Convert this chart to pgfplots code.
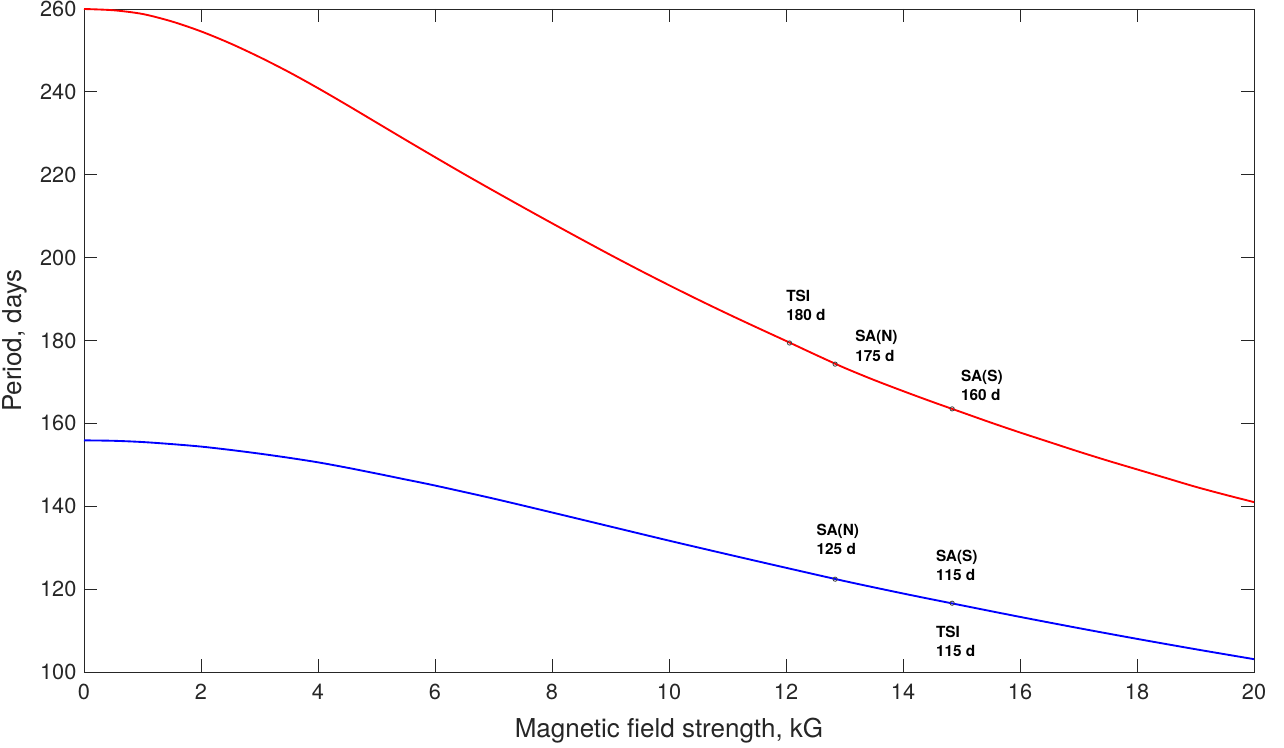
\documentclass[border=0pt]{standalone}
\usepackage{pgfplots}
\pgfplotsset{compat=1.18}
\usepackage{fontspec}
\setmainfont{TeX Gyre Heros}
\definecolor{axgray}{gray}{0.15}
\begin{document}
\begin{tikzpicture}
\begin{axis}[
  scale only axis,
  width=877.5pt, height=497.25pt,
  xmin=0, xmax=20, ymin=100, ymax=260,
  xtick={0,2,...,20}, ytick={100,120,...,260},
  tick align=inside,
  major tick length=9.5pt,
  axis line style={axgray, line width=0.6pt},
  every tick/.style={axgray, line width=0.6pt},
  /pgf/number format/assume math mode=true,
  tick label style={font=\fontsize{16.3}{18}\selectfont, text=axgray},
  xticklabel style={yshift=-5.5pt},
  yticklabel style={xshift=-2.2pt},
  xlabel={Magnetic field strength, kG},
  ylabel={Period, days},
  label style={font=\fontsize{19.5}{22}\selectfont, text=axgray},
  xlabel style={at={(axis description cs:0.5,0)}, anchor=base, yshift=-48.75pt},
  ylabel style={at={(axis description cs:-0.053,0.5)}, anchor=base, rotate=0},
  clip=false,
]
\addplot[red, line width=1.4pt, smooth] coordinates {
(0,260.0) (0.5,259.7) (1,258.8) (1.5,257.0) (2,254.6) (2.5,251.7) (3,248.4) (3.5,244.8)
(4,240.9) (4.5,236.8) (5,232.6) (5.5,228.4) (6,224.25) (6.5,220.15) (7,216.15) (7.5,212.2)
(8,208.3) (8.5,204.45) (9,200.65) (9.5,196.95) (10,193.35) (10.5,189.85) (11,186.45) (11.5,183.15)
(12,179.9) (12.5,176.6) (13,173.4) (13.5,170.5) (14,167.8) (14.5,165.2) (15,162.7) (15.5,160.2)
(16,157.8) (16.5,155.5) (17,153.2) (17.5,151.0) (18,148.9) (18.5,146.8) (19,144.7) (19.5,142.8) (20,141.0)
};
\addplot[blue, line width=1.4pt, smooth] coordinates {
(0,155.9) (0.5,155.8) (1,155.5) (1.5,155.0) (2,154.4) (2.5,153.6) (3,152.7) (3.5,151.7)
(4,150.6) (4.5,149.3) (5,147.9) (5.5,146.45) (6,145.0) (7,141.85) (8,138.5) (9,135.1)
(10,131.7) (11,128.4) (12,125.15) (13,121.95) (14,118.95) (15,116.1) (16,113.3) (17,110.6)
(18,108.0) (19,105.5) (20,103.1)
};
\addplot[only marks, mark=o, mark size=1.6pt, mark options={black!75, line width=0.6pt, fill=white}] coordinates {
(12.06,179.4) (12.84,174.3) (14.84,163.5) (12.84,122.4) (14.84,116.6)
};
\tikzset{ann/.style={anchor=west, align=left, inner sep=0pt, font=\bfseries\fontsize{11.5}{14.3}\selectfont, text=black}}
\node[ann] at (axis cs:12.0,188.5) {TSI\\180 d};
\node[ann] at (axis cs:13.18,178.7) {SA(N)\\175 d};
\node[ann] at (axis cs:14.99,169.1) {SA(S)\\160 d};
\node[ann] at (axis cs:12.52,131.9) {SA(N)\\125 d};
\node[ann] at (axis cs:14.56,125.8) {SA(S)\\115 d};
\node[ann] at (axis cs:14.56,107.4) {TSI\\115 d};
\end{axis}
\pgfresetboundingbox
\path (-63pt,-56.25pt) rectangle (900pt,504pt);
\end{tikzpicture}
\end{document}
